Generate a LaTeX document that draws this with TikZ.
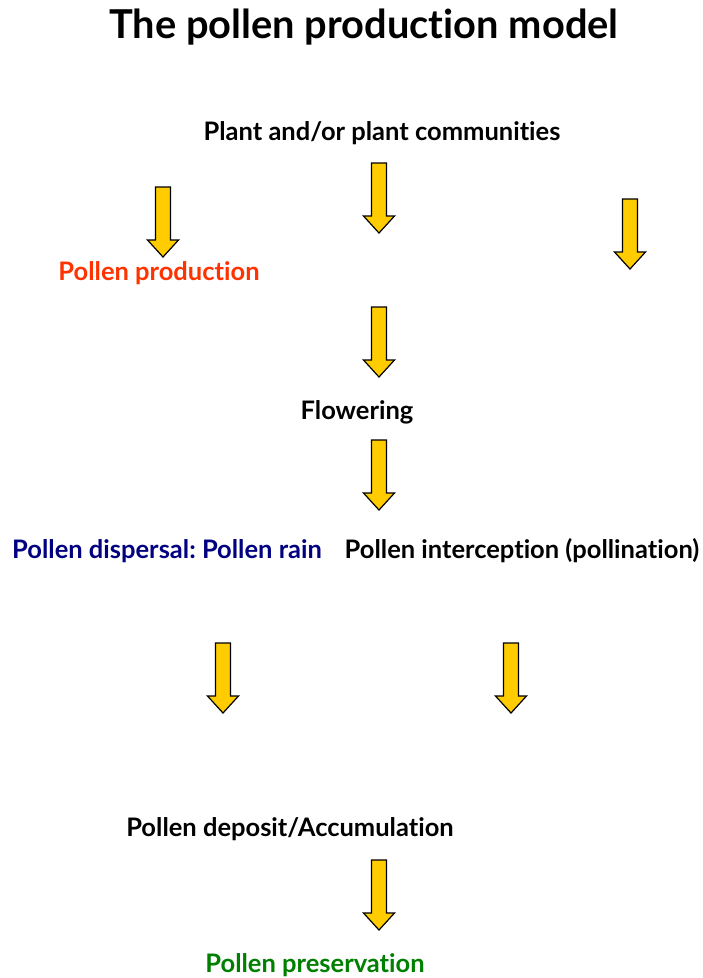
\documentclass[tikz,border=0pt]{standalone}
\usepackage{fontspec}
\setmainfont[Ligatures=NoCommon]{Lato}
\frenchspacing
\definecolor{arrowyellow}{HTML}{FFCC00}
\definecolor{prodred}{HTML}{FF3300}
\definecolor{dispnavy}{HTML}{000080}
\definecolor{presgreen}{HTML}{008000}
\tikzset{
  lbl/.style={font=\bfseries\fontsize{25.5}{28}\selectfont, inner sep=0pt, anchor=center},
  ttl/.style={font=\bfseries\fontsize{39.8}{46}\selectfont, inner sep=0pt, anchor=center},
  arrowstyle/.style={draw=black, line width=1.2pt, fill=arrowyellow, line join=miter},
  blockarrow/.pic={
    \path[arrowstyle] (-7.5,-35) -- (7.5,-35) -- (7.5,18) -- (15.5,18) -- (0,35) -- (-15.5,18) -- (-7.5,18) -- cycle;
  }
}
\begin{document}
\begin{tikzpicture}[x=1pt,y=-1pt]
\path[use as bounding box, fill=white] (0,0) rectangle (703,978);
\node[ttl] (title) at (364,27) {The pollen production model};
\node[lbl] (plant) at (382,133) {Plant and/or plant communities};
\node[lbl, text=prodred] (prod) at (159,273) {Pollen production};
\node[lbl] (flow) at (357,412) {Flowering};
\node[lbl, text=dispnavy] (disp) at (167,551) {Pollen dispersal: Pollen rain};
\node[lbl] (inter) at (522,551) {Pollen interception (pollination)};
\node[lbl] (depo) at (290,829) {Pollen deposit/Accumulation};
\node[lbl, text=presgreen] (pres) at (315,965) {Pollen preservation};
\pic (a1) at (163,222) {blockarrow};
\pic (a2) at (379,198) {blockarrow};
\pic (a3) at (630,234) {blockarrow};
\pic (a4) at (379,342) {blockarrow};
\pic (a5) at (379,475) {blockarrow};
\pic (a6) at (223,678) {blockarrow};
\pic (a7) at (511,678) {blockarrow};
\pic (a8) at (379,895) {blockarrow};
\end{tikzpicture}
\end{document}
